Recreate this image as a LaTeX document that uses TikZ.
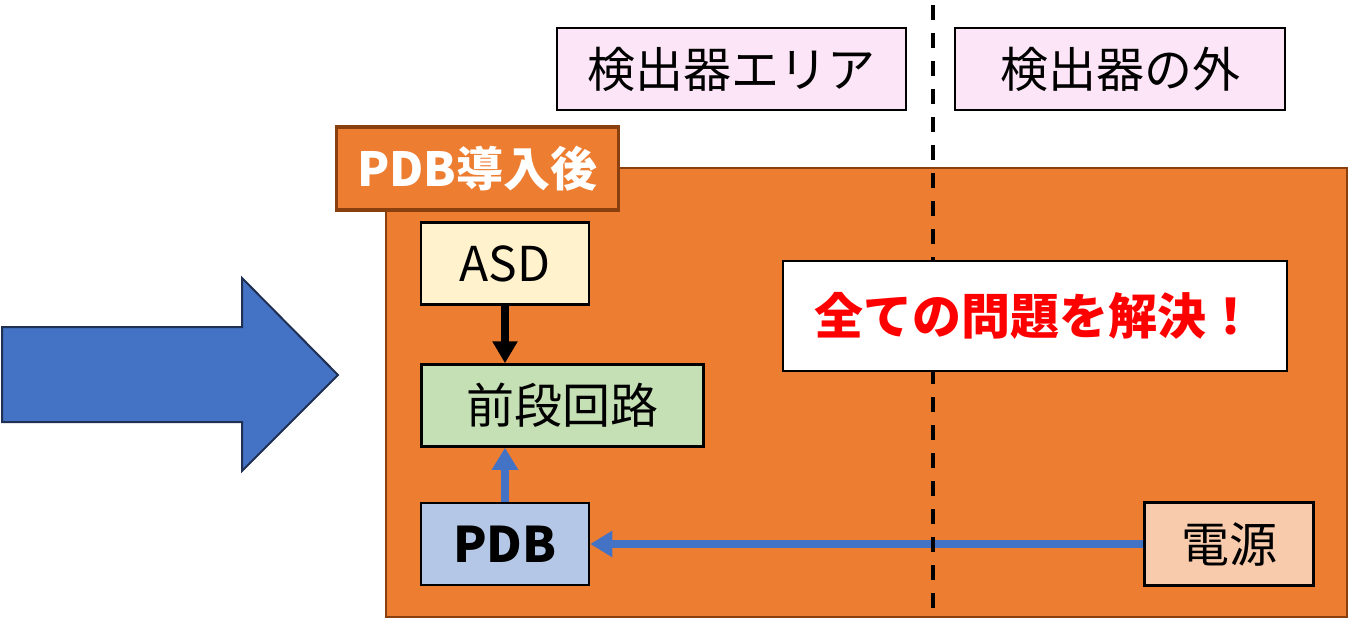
\documentclass[tikz,border=0pt]{standalone}
\usepackage{fontspec}
\setmainfont{Noto Sans CJK JP}
\usetikzlibrary{arrows.meta}
\definecolor{orfill}{HTML}{ED7D31}
\definecolor{orborder}{HTML}{8A3F0E}
\definecolor{pinkfill}{HTML}{FBE5F6}
\definecolor{asdfill}{HTML}{FFF2CC}
\definecolor{prefill}{HTML}{C5E0B4}
\definecolor{pdbfill}{HTML}{B4C7E7}
\definecolor{powfill}{HTML}{F8CBAD}
\definecolor{bluec}{HTML}{4472C4}
\definecolor{bluedark}{HTML}{1F3052}
\definecolor{redtext}{HTML}{FF0000}
\begin{document}
\begin{tikzpicture}[x=1pt,y=-1pt,
  box/.style={draw=black,line width=2.5pt,inner sep=0pt,font=\fontsize{48}{52}\selectfont},
  blk/.style={line width=8pt,draw=black,-{Triangle[width=24pt,length=22pt]}},
  blu/.style={line width=7.5pt,draw=bluec,-{Triangle[width=25pt,length=22pt]}}]
\useasboundingbox (0,0) rectangle (1349,620);
% big blue arrow
\draw[fill=bluec,draw=bluedark,line width=2pt] (2,327) -- (242,327) -- (242,278) -- (338,375) -- (242,471) -- (242,422) -- (2,422) -- cycle;
% orange area
\node[draw=orborder,fill=orfill,line width=2pt,inner sep=0pt,minimum width=961pt,minimum height=449pt] (main) at (866.5,392.5) {};
\node[draw=orborder,fill=orfill,line width=3.5pt,inner sep=0pt,minimum width=282pt,minimum height=83pt,text=white,font=\fontsize{47}{52}\selectfont\bfseries] (tab) at (477.5,168.5) {PDB導入後};
% top labels
\node[box,fill=pinkfill,minimum width=349pt,minimum height=82pt] (area) at (731.5,69) {検出器エリア};
\node[box,fill=pinkfill,minimum width=330pt,minimum height=82pt] (outside) at (1120,69) {検出器の外};
% blocks
\node[box,fill=asdfill,minimum width=168pt,minimum height=82pt] (asd) at (505,263.5) {ASD};
\node[box,fill=prefill,minimum width=282pt,minimum height=82pt] (pre) at (562.5,405.5) {前段回路};
\node[box,fill=pdbfill,minimum width=168pt,minimum height=82pt,font=\fontsize{49}{52}\selectfont\bfseries] (pdb) at (505,544) {PDB};
\node[box,fill=powfill,minimum width=169pt,minimum height=83pt] (pow) at (1229,544) {電源};
% connectors
\draw[blk] (asd) -- (asd |- pre.north);
\draw[blu] (pdb) -- (pdb |- pre.south);
\draw[blu] (pow) -- (pdb);
% dashed divider
\coordinate (dtop) at (933,5);
\coordinate (dbot) at (933,613);
\draw[line width=3.5pt,dash pattern=on 15pt off 13pt] (dtop) -- (dbot);
% message box
\node[box,fill=white,minimum width=504pt,minimum height=110pt,text=redtext,font=\fontsize{49}{54}\selectfont\bfseries] (msg) at (1035,316) {全ての問題を解決！};
\end{tikzpicture}
\end{document}
